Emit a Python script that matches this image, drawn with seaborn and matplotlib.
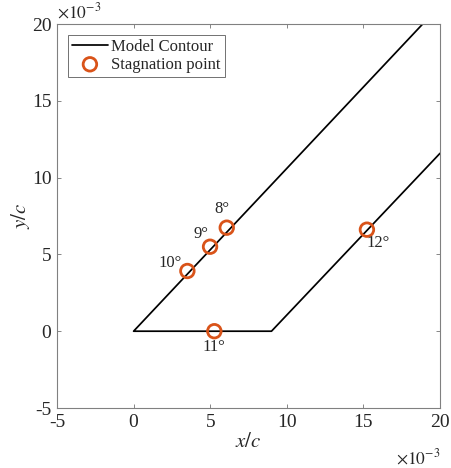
import matplotlib
matplotlib.use("Agg")
import matplotlib.pyplot as plt
import seaborn as sns
import pandas as pd

# Model contour (units of 1e-3)
contour_x = [18.87, 0.0, 9.0, 20.0]
contour_y = [20.0, 0.0, 0.0, 11.58]

# Stagnation points (units of 1e-3)
angles = ["8°", "9°", "10°", "11°", "12°"]
stag_x = [6.08, 4.99, 3.51, 5.27, 15.23]
stag_y = [6.74, 5.50, 3.92, 0.0, 6.61]

ticks = [-5, 0, 5, 10, 15, 20]

sns.set_style("white")
plt.rcParams['font.family'] = ['Liberation Serif', 'DejaVu Serif']
plt.rcParams['mathtext.fontset'] = 'stix'

fig = plt.figure(figsize=(4.51, 4.68), dpi=100)
ax = fig.add_axes([0.1264, 0.1282, 0.8492, 0.8205])

cdf = pd.DataFrame({"x": contour_x, "y": contour_y})
sdf = pd.DataFrame({"x": stag_x, "y": stag_y, "a": angles})

sns.lineplot(data=cdf, x="x", y="y", sort=False, estimator=None, color="black",
             linewidth=1.25, ax=ax, label="Model Contour")
sns.scatterplot(data=sdf, x="x", y="y", marker="o", s=95, facecolor="none",
                edgecolor="#D95319", linewidth=2.0, ax=ax, label="Stagnation point",
                zorder=3)

offsets = {"8°": (-0.3, 1.2), "9°": (-0.6, 0.85), "10°": (-1.15, 0.55),
           "11°": (0.0, -1.05), "12°": (0.75, -0.9)}
for a, x, y in zip(angles, stag_x, stag_y):
    dx, dy = offsets[a]
    ax.text(x + dx, y + dy, a, fontsize=12, ha="center", va="center")

ax.set_xlim(-5, 20)
ax.set_ylim(-5, 20)
ax.set_xticks(ticks)
ax.set_yticks(ticks)
ax.set_xticklabels([str(t) for t in ticks], fontsize=14)
ax.set_yticklabels([str(t) for t in ticks], fontsize=14)
ax.tick_params(direction="in", length=3, width=0.6, color="0.45",
               top=True, right=True, bottom=True, left=True, pad=4)
for sp in ax.spines.values():
    sp.set_color("0.5")
    sp.set_linewidth(0.8)

ax.set_xlabel("$x/c$", fontsize=15, labelpad=2)
ax.set_ylabel("$y/c$", fontsize=15, labelpad=0)

ax.text(0.0, 1.005, r"$\times10^{-3}$", transform=ax.transAxes, fontsize=12.5,
        ha="left", va="bottom")
ax.text(1.0, -0.105, r"$\times10^{-3}$", transform=ax.transAxes, fontsize=12.5,
        ha="right", va="top")

leg = ax.legend(loc="upper left", fontsize=12, frameon=True, fancybox=False,
                borderpad=0.25, labelspacing=0.1, handlelength=2.15,
                handletextpad=0.2, borderaxespad=0.65)
leg.get_frame().set_edgecolor("0.3")
leg.get_frame().set_linewidth(0.7)

fig.savefig("out.png", dpi=100)
